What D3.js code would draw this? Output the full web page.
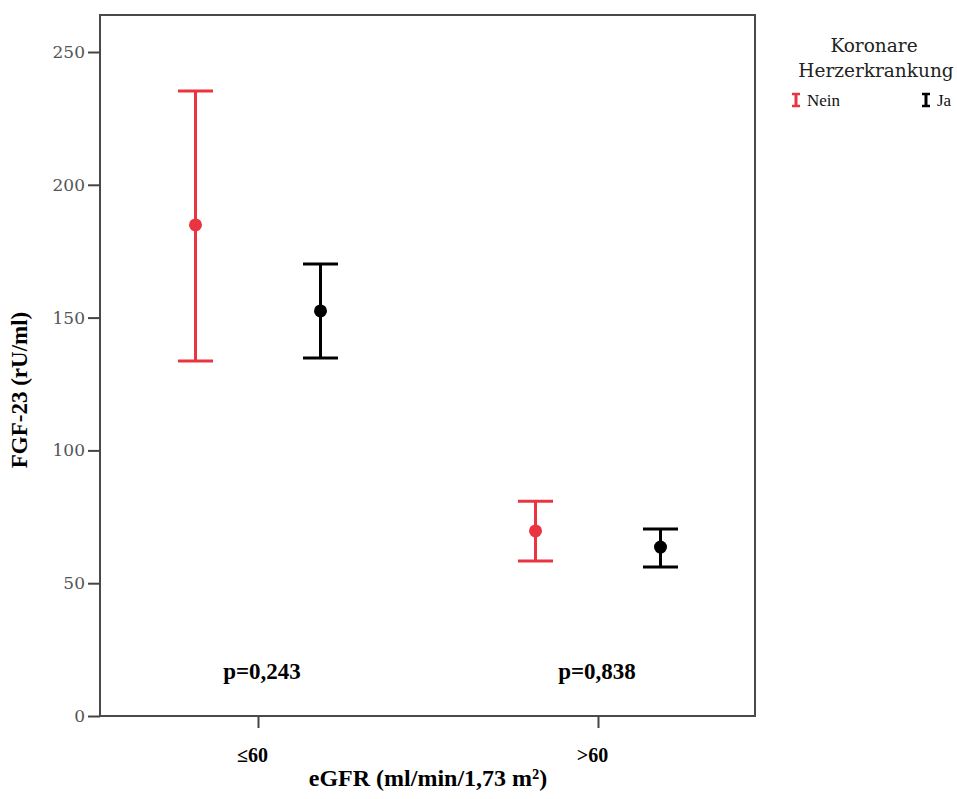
<!DOCTYPE html>
<html><head><meta charset="utf-8">
<script src="https://cdn.jsdelivr.net/npm/d3@7"></script>
<style>body{margin:0;background:#fff}</style>
</head><body>
<script>
const categories = ["≤60", ">60"];
const groups = ["Nein", "Ja"];
const groupColors = ["#ea3440", "#000000"];
const means = [[184.9, 152.5], [69.7, 63.6]];
const lower = [[133.7, 134.8], [58.4, 56.1]];
const upper = [[235.3, 170.2], [80.9, 70.4]];
const pValues = ["p=0,243", "p=0,838"];
const yTicks = [0, 50, 100, 150, 200, 250];

const W = 957, H = 799;
const mLeft = 100, mRight = 755, mTop = 15, mBottom = 716;
const svg = d3.select("body").append("svg").attr("width", W).attr("height", H);

const y = d3.scaleLinear().domain([0, 250]).range([mBottom, 52]);
const x = d3.scalePoint().domain(categories).range([258, 598]);
const off = d3.scalePoint().domain(groups).range([-62.5, 62.5]);

// frame
svg.append("rect").attr("x", mLeft).attr("y", mTop).attr("width", mRight - mLeft).attr("height", mBottom - mTop)
  .attr("fill", "none").attr("stroke", "#4a4a4a").attr("stroke-width", 2);

// y axis
const ya = svg.append("g").attr("transform", `translate(${mLeft},0)`)
  .call(d3.axisLeft(y).tickValues(yTicks).tickSize(12).tickPadding(3));
ya.select(".domain").remove();
ya.selectAll("line").attr("stroke", "#444").attr("stroke-width", 2);
ya.selectAll("text").attr("font-family", "DejaVu Serif").attr("font-size", 17).attr("fill", "#555").attr("font-weight", 300);

// x axis
const xa = svg.append("g").attr("transform", `translate(0,${mBottom})`)
  .call(d3.axisBottom(x).tickSize(12).tickPadding(0));
xa.select(".domain").remove();
xa.selectAll("line").attr("stroke", "#444").attr("stroke-width", 2);
xa.selectAll("text").attr("font-family", "Liberation Serif").attr("font-size", 20).attr("font-weight", "bold")
  .attr("fill", "#000").attr("dy", null).attr("y", 46).attr("dx", -6);

// titles
svg.append("text").attr("transform", "translate(27,390) rotate(-90)").attr("text-anchor", "middle")
  .attr("font-family", "Liberation Serif").attr("font-weight", "bold").attr("font-size", 23).text("FGF-23 (rU/ml)");
svg.append("text").attr("x", 428).attr("y", 786).attr("text-anchor", "middle")
  .attr("font-family", "Liberation Serif").attr("font-weight", "bold").attr("font-size", 24).text("eGFR (ml/min/1,73 m²)");

// p-values
svg.selectAll("text.p").data(pValues).join("text").attr("class", "p")
  .attr("x", (d, i) => x(categories[i]) + [4, -1][i]).attr("y", 679).attr("text-anchor", "middle")
  .attr("font-family", "Liberation Serif").attr("font-weight", "bold").attr("font-size", 23).text(d => d);

// error bars
const cap = 17.5;
categories.forEach((c, i) => {
  groups.forEach((g, j) => {
    const cx = x(c) + off(g);
    const gEl = svg.append("g").attr("stroke", groupColors[j]).attr("stroke-width", 3).attr("fill", groupColors[j]);
    gEl.append("line").attr("x1", cx).attr("x2", cx).attr("y1", y(upper[i][j])).attr("y2", y(lower[i][j]));
    gEl.append("line").attr("x1", cx - cap).attr("x2", cx + cap).attr("y1", y(upper[i][j])).attr("y2", y(upper[i][j]));
    gEl.append("line").attr("x1", cx - cap).attr("x2", cx + cap).attr("y1", y(lower[i][j])).attr("y2", y(lower[i][j]));
    gEl.append("circle").attr("cx", cx).attr("cy", y(means[i][j])).attr("r", 6.5).attr("stroke", "none");
  });
});

// legend
svg.append("text").attr("x", 874).attr("y", 52).attr("text-anchor", "middle")
  .attr("font-family", "DejaVu Serif").attr("font-size", 18.5).attr("fill", "#222").text("Koronare");
svg.append("text").attr("x", 876).attr("y", 77).attr("text-anchor", "middle")
  .attr("font-family", "DejaVu Serif").attr("font-size", 18.5).attr("fill", "#222").text("Herzerkrankung");
const legX = [796, 926];
groups.forEach((g, j) => {
  const lx = legX[j], ly = 100;
  const le = svg.append("g").attr("stroke", groupColors[j]).attr("stroke-width", 2.5);
  le.append("line").attr("x1", lx).attr("x2", lx).attr("y1", ly - 7).attr("y2", ly + 7).attr("stroke-width", 3);
  le.append("line").attr("x1", lx - 4).attr("x2", lx + 4).attr("y1", ly - 6).attr("y2", ly - 6);
  le.append("line").attr("x1", lx - 4).attr("x2", lx + 4).attr("y1", ly + 6).attr("y2", ly + 6);
  svg.append("text").attr("x", lx + 11).attr("y", ly + 6).attr("font-family", "Liberation Serif")
    .attr("font-size", 17).attr("fill", "#111").text(g);
});
</script>
</body></html>
